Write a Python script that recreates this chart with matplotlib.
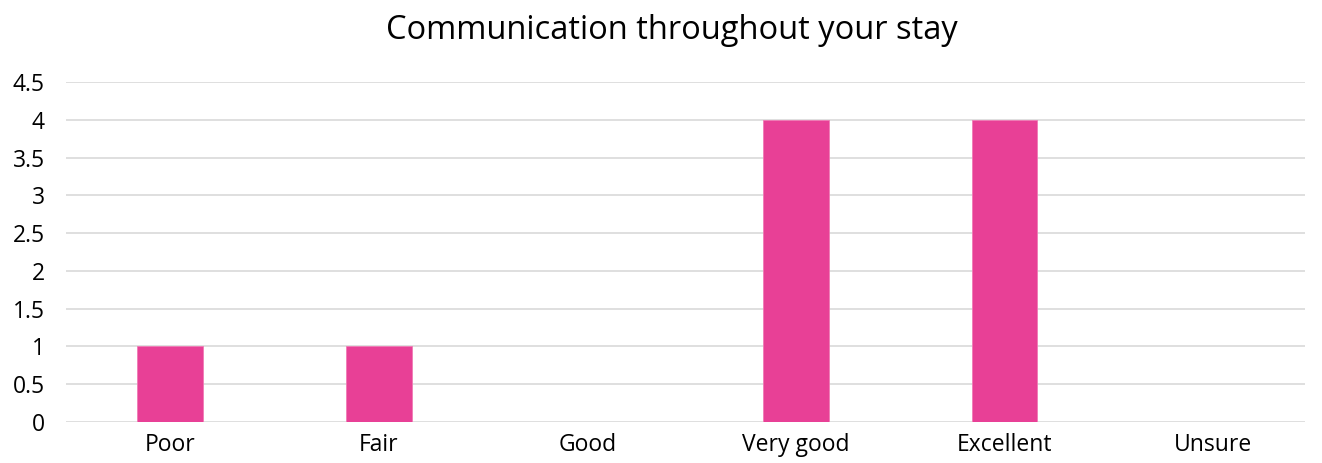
import matplotlib
matplotlib.use("Agg")
import matplotlib.pyplot as plt

categories = ["Poor", "Fair", "Good", "Very good", "Excellent", "Unsure"]
counts = [1, 1, 0, 4, 4, 0]
yticks = [0, 0.5, 1, 1.5, 2, 2.5, 3, 3.5, 4, 4.5]
ytick_labels = ["0", "0.5", "1", "1.5", "2", "2.5", "3", "3.5", "4", "4.5"]

plt.rcParams['font.family'] = ['Open Sans', 'DejaVu Sans']

fig = plt.figure(figsize=(13.22, 4.63), dpi=100)
ax = fig.add_axes([0.0497, 0.0886, 0.9375, 0.734])

x = list(range(len(categories)))
ax.bar(x, counts, width=0.315, color="#E84096", edgecolor="#F07AB5", linewidth=0.6, zorder=3)

# category slots run a little past the right end of the gridlines
ax.set_xlim(-0.5, len(categories) - 0.56)
ax.set_ylim(0, 4.5)
ax.set_yticks(yticks)
ax.set_yticklabels(ytick_labels)
ax.set_xticks(x)
ax.set_xticklabels(categories)
ax.grid(axis="y", color="#D9D9D9", linewidth=1.2, zorder=0)
ax.tick_params(axis="both", length=0, labelsize=16.5, colors="#000000")
ax.tick_params(axis="x", pad=8)
ax.tick_params(axis="y", pad=15)
for s in ax.spines.values():
    s.set_visible(False)

fig.suptitle("Communication throughout your stay", x=0.508, y=0.97, fontsize=23.5)

fig.savefig("out.png", dpi=100)
